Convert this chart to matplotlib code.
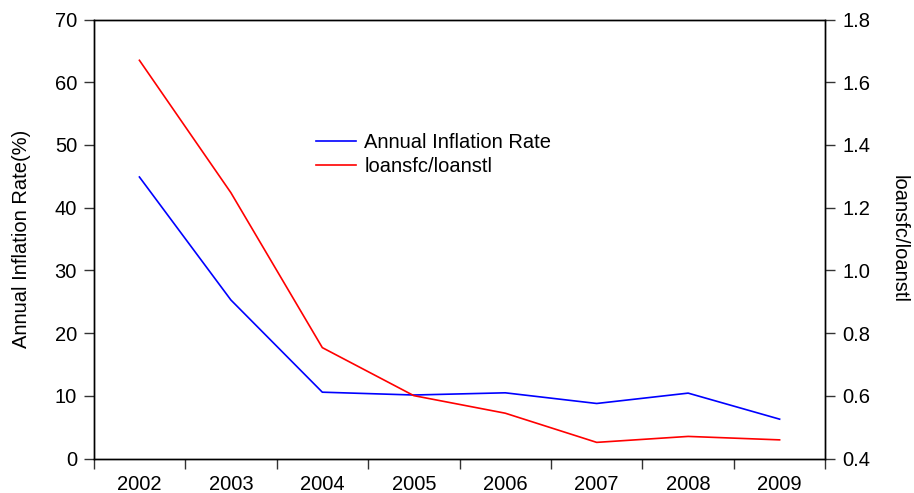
import matplotlib
matplotlib.use("Agg")
import matplotlib.pyplot as plt

plt.rcParams['font.family'] = ['Liberation Sans', 'DejaVu Sans']

years = [2002, 2003, 2004, 2005, 2006, 2007, 2008, 2009]
inflation = [44.9, 25.3, 10.6, 10.15, 10.5, 8.8, 10.45, 6.3]
loans_ratio = [1.670, 1.248, 0.754, 0.601, 0.545, 0.452, 0.471, 0.460]
left_ticks = [0, 10, 20, 30, 40, 50, 60, 70]
right_ticks = [0.4, 0.6, 0.8, 1.0, 1.2, 1.4, 1.6, 1.8]

fig = plt.figure(figsize=(9.14, 4.93), dpi=100)
ax = fig.add_axes([0.1025, 0.0696, 0.8005, 0.8908])
ax2 = ax.twinx()

l1, = ax.plot(years, inflation, color='#0000ff', lw=1.2)
l2, = ax2.plot(years, loans_ratio, color='#ff0000', lw=1.2)

ax.set_xlim(2001.5, 2009.5)
ax.set_ylim(0, 70)
ax2.set_ylim(0.4, 1.8)

fs = 14.5
ax.set_xticks([y - 0.5 for y in years] + [years[-1] + 0.5])
ax.set_xticklabels([])
ax.set_xticks(years, minor=True)
ax.set_xticklabels([str(y) for y in years], minor=True, fontsize=fs)
ax.tick_params(axis='x', which='major', direction='out', length=7, width=1, colors='#333333')
ax.tick_params(axis='x', which='minor', length=0, pad=12, labelsize=fs, labelcolor='black')

ax.set_yticks(left_ticks)
ax.set_yticklabels([str(t) for t in left_ticks], fontsize=fs)
ax.tick_params(axis='y', direction='out', length=7, width=1, pad=5, colors='#333333', labelcolor='black')

ax2.set_yticks(right_ticks)
ax2.set_yticklabels([f"{t:.1f}" for t in right_ticks], fontsize=fs)
ax2.tick_params(axis='y', direction='out', length=7, width=1, pad=5, colors='#333333', labelcolor='black')

for a in (ax, ax2):
    for s in a.spines.values():
        s.set_linewidth(1.0)
        s.set_color('black')

ax.set_ylabel('Annual Inflation Rate(%)', fontsize=fs, labelpad=17)
ax2.set_ylabel('loansfc/loanstl', fontsize=fs, rotation=270, labelpad=28)

fig.legend([l1, l2], ['Annual Inflation Rate', 'loansfc/loanstl'],
           loc='upper left', bbox_to_anchor=(0.3457, 0.73), frameon=False,
           fontsize=fs, handlelength=2.0, handletextpad=0.4, labelspacing=0.25,
           borderaxespad=0, borderpad=0)

fig.savefig('out.png', dpi=100)
